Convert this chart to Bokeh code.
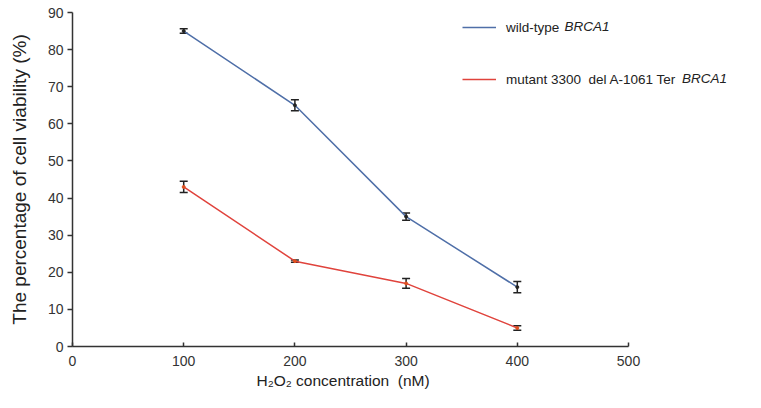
from bokeh.plotting import figure
from bokeh.models import ColumnDataSource, Whisker, Legend, LegendItem, Range1d, FixedTicker, TeeHead, Label, Title
from bokeh.embed import file_html
from bokeh.resources import INLINE

conc = [100, 200, 300, 400]
wild = [85, 65, 35, 16]
wild_err = [0.6, 1.5, 1.0, 1.5]
mut = [43, 23, 17, 5]
mut_err = [1.5, 0.3, 1.3, 0.6]
x_ticks = [0, 100, 200, 300, 400, 500]
y_ticks = [0, 10, 20, 30, 40, 50, 60, 70, 80, 90]
series_names = ["wild-type", "mutant 3300\u00a0 del A-1061 Ter"]
gene = "BRCA1"

FONT = "Liberation Sans"
BLUE = "#4f6fa8"
RED = "#e0433c"

W, H = 745, 392
LEFT, TOP, BOTTOM = 72, 12, 46
X_SPAN = 556  # pixels for 0..500
x_end = 500 * (W - LEFT) / X_SPAN

p = figure(width=W, height=H, output_backend="svg", toolbar_location=None,
           x_range=Range1d(0, x_end), y_range=Range1d(0, 90),
           min_border_left=LEFT, min_border_right=0, min_border_top=TOP, min_border_bottom=BOTTOM)
p.outline_line_color = None
p.grid.grid_line_color = None

sw = ColumnDataSource(dict(x=conc, y=wild,
                           lo=[v - e for v, e in zip(wild, wild_err)],
                           hi=[v + e for v, e in zip(wild, wild_err)]))
sm = ColumnDataSource(dict(x=conc, y=mut,
                           lo=[v - e for v, e in zip(mut, mut_err)],
                           hi=[v + e for v, e in zip(mut, mut_err)]))

lw = p.line("x", "y", source=sw, line_color=BLUE, line_width=1.5)
dw = p.scatter("x", "y", source=sw, size=3, color="#222222")
lm = p.line("x", "y", source=sm, line_color=RED, line_width=1.5)
dm = p.scatter("x", "y", source=sm, size=3, color="#e05020")

for s in (sw, sm):
    w = Whisker(source=s, base="x", lower="lo", upper="hi", line_color="#222222", line_width=1.5,
                upper_head=TeeHead(size=8, line_color="#222222", line_width=1.5),
                lower_head=TeeHead(size=8, line_color="#222222", line_width=1.5))
    p.add_layout(w)

for ax in (p.xaxis[0], p.yaxis[0]):
    ax.axis_line_color = "#333333"
    ax.axis_line_width = 1.5
    ax.major_tick_line_color = "#333333"
    ax.major_tick_line_width = 1.5
    ax.minor_tick_line_color = None
    ax.major_label_text_font = FONT
    ax.major_label_text_font_size = "14px"
    ax.major_label_text_color = "#333333"
    ax.axis_label_text_font = FONT
    ax.axis_label_text_font_style = "normal"
    ax.axis_label_text_color = "#222222"

p.xaxis.bounds = (0, 500)
p.xaxis.ticker = FixedTicker(ticks=x_ticks)
p.yaxis.ticker = FixedTicker(ticks=y_ticks)
p.xaxis.major_tick_in = 4
p.xaxis.major_tick_out = 0
p.yaxis.major_tick_in = 0
p.yaxis.major_tick_out = 5
p.xaxis.major_label_standoff = 9
p.yaxis.major_label_standoff = 4

p.yaxis.axis_label = "The percentage of cell viability (%)"
p.yaxis.axis_label_text_font_size = "19px"
p.yaxis.axis_label_standoff = 15

xt = Title(text="H\u2082O\u2082 concentration\u00a0 (nM)", align="left", offset=184,
           text_font=FONT, text_font_size="15.5px", text_font_style="normal",
           text_color="#222222", standoff=2)
p.add_layout(xt, "below")

legend = Legend(items=[
    LegendItem(label=series_names[0], renderers=[lw]),
    LegendItem(label=series_names[1], renderers=[lm]),
], location=(390, 257))
legend.background_fill_alpha = 0
legend.border_line_color = None
legend.label_text_font = FONT
legend.label_text_font_size = "13.5px"
legend.label_text_color = "#222222"
legend.glyph_width = 34
legend.spacing = 32
legend.label_standoff = 10
p.add_layout(legend)

for xd, yd in ((442.5, 86.8), (548, 72.8)):
    p.add_layout(Label(x=xd, y=yd, text=gene, text_font=FONT, text_font_size="13.5px",
                       text_font_style="italic", text_color="#222222", text_baseline="middle",
                       y_offset=-2))

open("out.html", "w").write(file_html(p, INLINE))
